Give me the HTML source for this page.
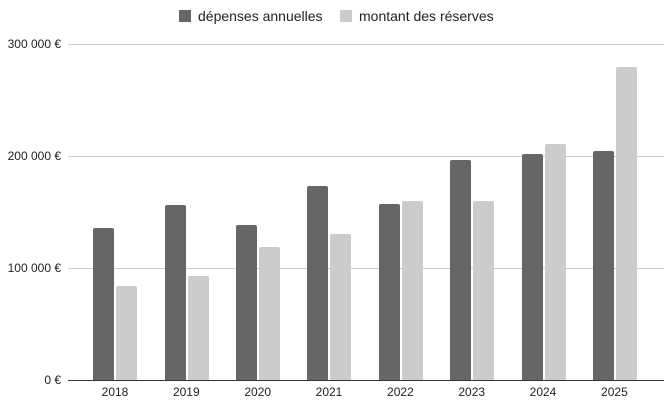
<!DOCTYPE html><html><head><meta charset="utf-8"><style>body{margin:0;background:#fff}svg{display:block}text{font-family:"Liberation Sans",sans-serif;fill:#222}</style></head><body>
<svg width="671" height="408" xmlns="http://www.w3.org/2000/svg">
<rect x="179" y="10" width="12" height="12" fill="#666"/><text x="198" y="21" font-size="14">dépenses annuelles</text>
<rect x="340" y="10" width="12" height="12" fill="#ccc"/><text x="359" y="21" font-size="14">montant des réserves</text>
<g stroke="#ccc" stroke-width="1"><line x1="68" y1="44.5" x2="664" y2="44.5"/><line x1="68" y1="156.5" x2="664" y2="156.5"/><line x1="68" y1="268.5" x2="664" y2="268.5"/></g>
<g font-size="12" text-anchor="end"><text x="61" y="48">300 000 €</text><text x="61" y="160">200 000 €</text><text x="61" y="272">100 000 €</text><text x="61" y="384">0 €</text></g>
<g id="b"></g>
<line x1="68" y1="380.5" x2="664" y2="380.5" stroke="#333" stroke-width="1"/>
<g font-size="12" text-anchor="middle">
<text x="115" y="396">2018</text><text x="186.3" y="396">2019</text><text x="257.7" y="396">2020</text><text x="329" y="396">2021</text><text x="400.4" y="396">2022</text><text x="471.7" y="396">2023</text><text x="543" y="396">2024</text><text x="614.4" y="396">2025</text></g>
<g>
<path d="M93 380V230a2 2 0 0 1 2-2h17a2 2 0 0 1 2 2V380Z" fill="#666"/><path d="M116 380V288a2 2 0 0 1 2-2h17a2 2 0 0 1 2 2V380Z" fill="#ccc"/>
<path d="M165 380V207a2 2 0 0 1 2-2h17a2 2 0 0 1 2 2V380Z" fill="#666"/><path d="M188 380V278a2 2 0 0 1 2-2h17a2 2 0 0 1 2 2V380Z" fill="#ccc"/>
<path d="M236 380V227a2 2 0 0 1 2-2h17a2 2 0 0 1 2 2V380Z" fill="#666"/><path d="M259 380V249a2 2 0 0 1 2-2h17a2 2 0 0 1 2 2V380Z" fill="#ccc"/>
<path d="M307 380V188a2 2 0 0 1 2-2h17a2 2 0 0 1 2 2V380Z" fill="#666"/><path d="M330 380V236a2 2 0 0 1 2-2h17a2 2 0 0 1 2 2V380Z" fill="#ccc"/>
<path d="M379 380V206a2 2 0 0 1 2-2h17a2 2 0 0 1 2 2V380Z" fill="#666"/><path d="M402 380V203a2 2 0 0 1 2-2h17a2 2 0 0 1 2 2V380Z" fill="#ccc"/>
<path d="M450 380V162a2 2 0 0 1 2-2h17a2 2 0 0 1 2 2V380Z" fill="#666"/><path d="M473 380V203a2 2 0 0 1 2-2h17a2 2 0 0 1 2 2V380Z" fill="#ccc"/>
<path d="M522 380V156a2 2 0 0 1 2-2h17a2 2 0 0 1 2 2V380Z" fill="#666"/><path d="M545 380V146a2 2 0 0 1 2-2h17a2 2 0 0 1 2 2V380Z" fill="#ccc"/>
<path d="M593 380V153a2 2 0 0 1 2-2h17a2 2 0 0 1 2 2V380Z" fill="#666"/><path d="M616 380V69a2 2 0 0 1 2-2h17a2 2 0 0 1 2 2V380Z" fill="#ccc"/>
</g>
</svg></body></html>
